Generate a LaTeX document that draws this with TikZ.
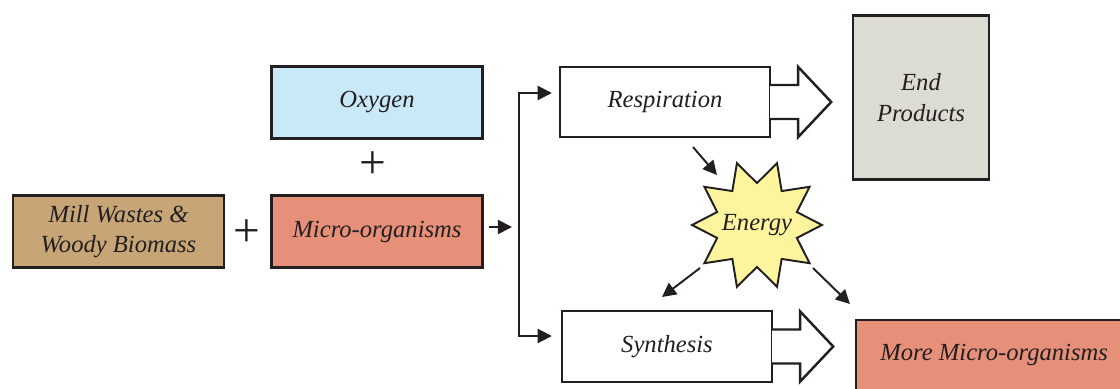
\documentclass[tikz,border=0pt]{standalone}
\usepackage{fontspec}
\setmainfont{Liberation Serif}
\usetikzlibrary{arrows.meta,shapes.geometric}
\definecolor{woodtan}{HTML}{C7A577}
\definecolor{microred}{HTML}{E6907A}
\definecolor{oxyblue}{HTML}{C8E9F8}
\definecolor{endgray}{HTML}{DCDCD2}
\definecolor{energyyellow}{HTML}{FDF59D}
\definecolor{ink}{HTML}{231F20}
\begin{document}
\begin{tikzpicture}[x=0.02cm,y=-0.02cm,>={Triangle[length=8pt,width=8pt]},
		box/.style={draw=ink,line width=1.4pt,minimum width=4.22cm,minimum height=1.44cm,
			align=center,text=ink,font=\fontsize{14}{17.5}\selectfont\itshape},
		link/.style={draw=ink,line width=1.1pt},
		plus/.style={text=ink,font=\fontsize{27}{27}\selectfont,inner sep=0pt}]
	\useasboundingbox (0,0) rectangle (1120,389);
	% inputs
	\node[box,fill=woodtan] (mill) at (118.5,231.5) {Mill Wastes \&\\Woody Biomass};
	\node[box,fill=microred] (micro) at (377,231.5) {Micro-organisms};
	\node[box,fill=oxyblue] (oxy) at (377,102.5) {Oxygen};
	\node[plus] (plusa) at (373,165) {+};
	\node[plus] (plusb) at (247,233) {+};
	% processes
	\node[box,fill=white,minimum width=4.2cm,minimum height=1.4cm] (resp) at (665,102) {Respiration};
	\node[box,fill=white,minimum width=4.2cm,minimum height=1.42cm] (synth) at (667,346.5) {Synthesis};
	\foreach \b in {resp,synth}{
		\draw[ink,line width=1.4pt,fill=white] (\b.east) ++(-1,-17) -- ++(28,0) -- ++(0,-18)
			-- ++(33,35) -- ++(-33,35) -- ++(0,-18) -- ++(-28,0);
	}
	% outputs
	\node[box,fill=endgray,minimum width=2.72cm,minimum height=3.28cm] (endp) at (921,97.5) {End\\Products};
	\node[box,fill=microred,anchor=north west,minimum width=5.52cm,text height=10pt,text depth=40pt,
		inner ysep=12.8pt] (more) at (855,319) {More Micro-organisms};
	\node[star,star points=10,star point ratio=1.55,shape border rotate=18,draw=ink,line width=1.1pt,
		fill=energyyellow,inner sep=0pt,minimum size=2.6cm,text=ink,
		font=\fontsize{14}{17}\selectfont\itshape] (energy) at (757,225) {\makebox[0pt]{Energy}};
	% connectors
	\coordinate (feed) at (489,227);
	\coordinate (split) at (519,227);
	\coordinate (jtop) at (519,93);
	\coordinate (jbot) at (519,336);
	\draw[link,->] (feed) -- ([xshift=-0.14cm]split);
	\draw[link,<->,shorten <=0.14cm,shorten >=0.18cm] (resp.west |- jtop) -- (jtop) -- (jbot) -- (synth.west |- jbot);
	\draw[link,->] ([shift={(-64,-78)}]energy.center) -- ([shift={(-40,-50)}]energy.center);
	\draw[link,->] ([shift={(-57,43)}]energy.center) -- ([shift={(-95,72)}]energy.center);
	\draw[link,->] ([shift={(56,43)}]energy.center) -- ([shift={(93,79)}]energy.center);
\end{tikzpicture}
\end{document}
